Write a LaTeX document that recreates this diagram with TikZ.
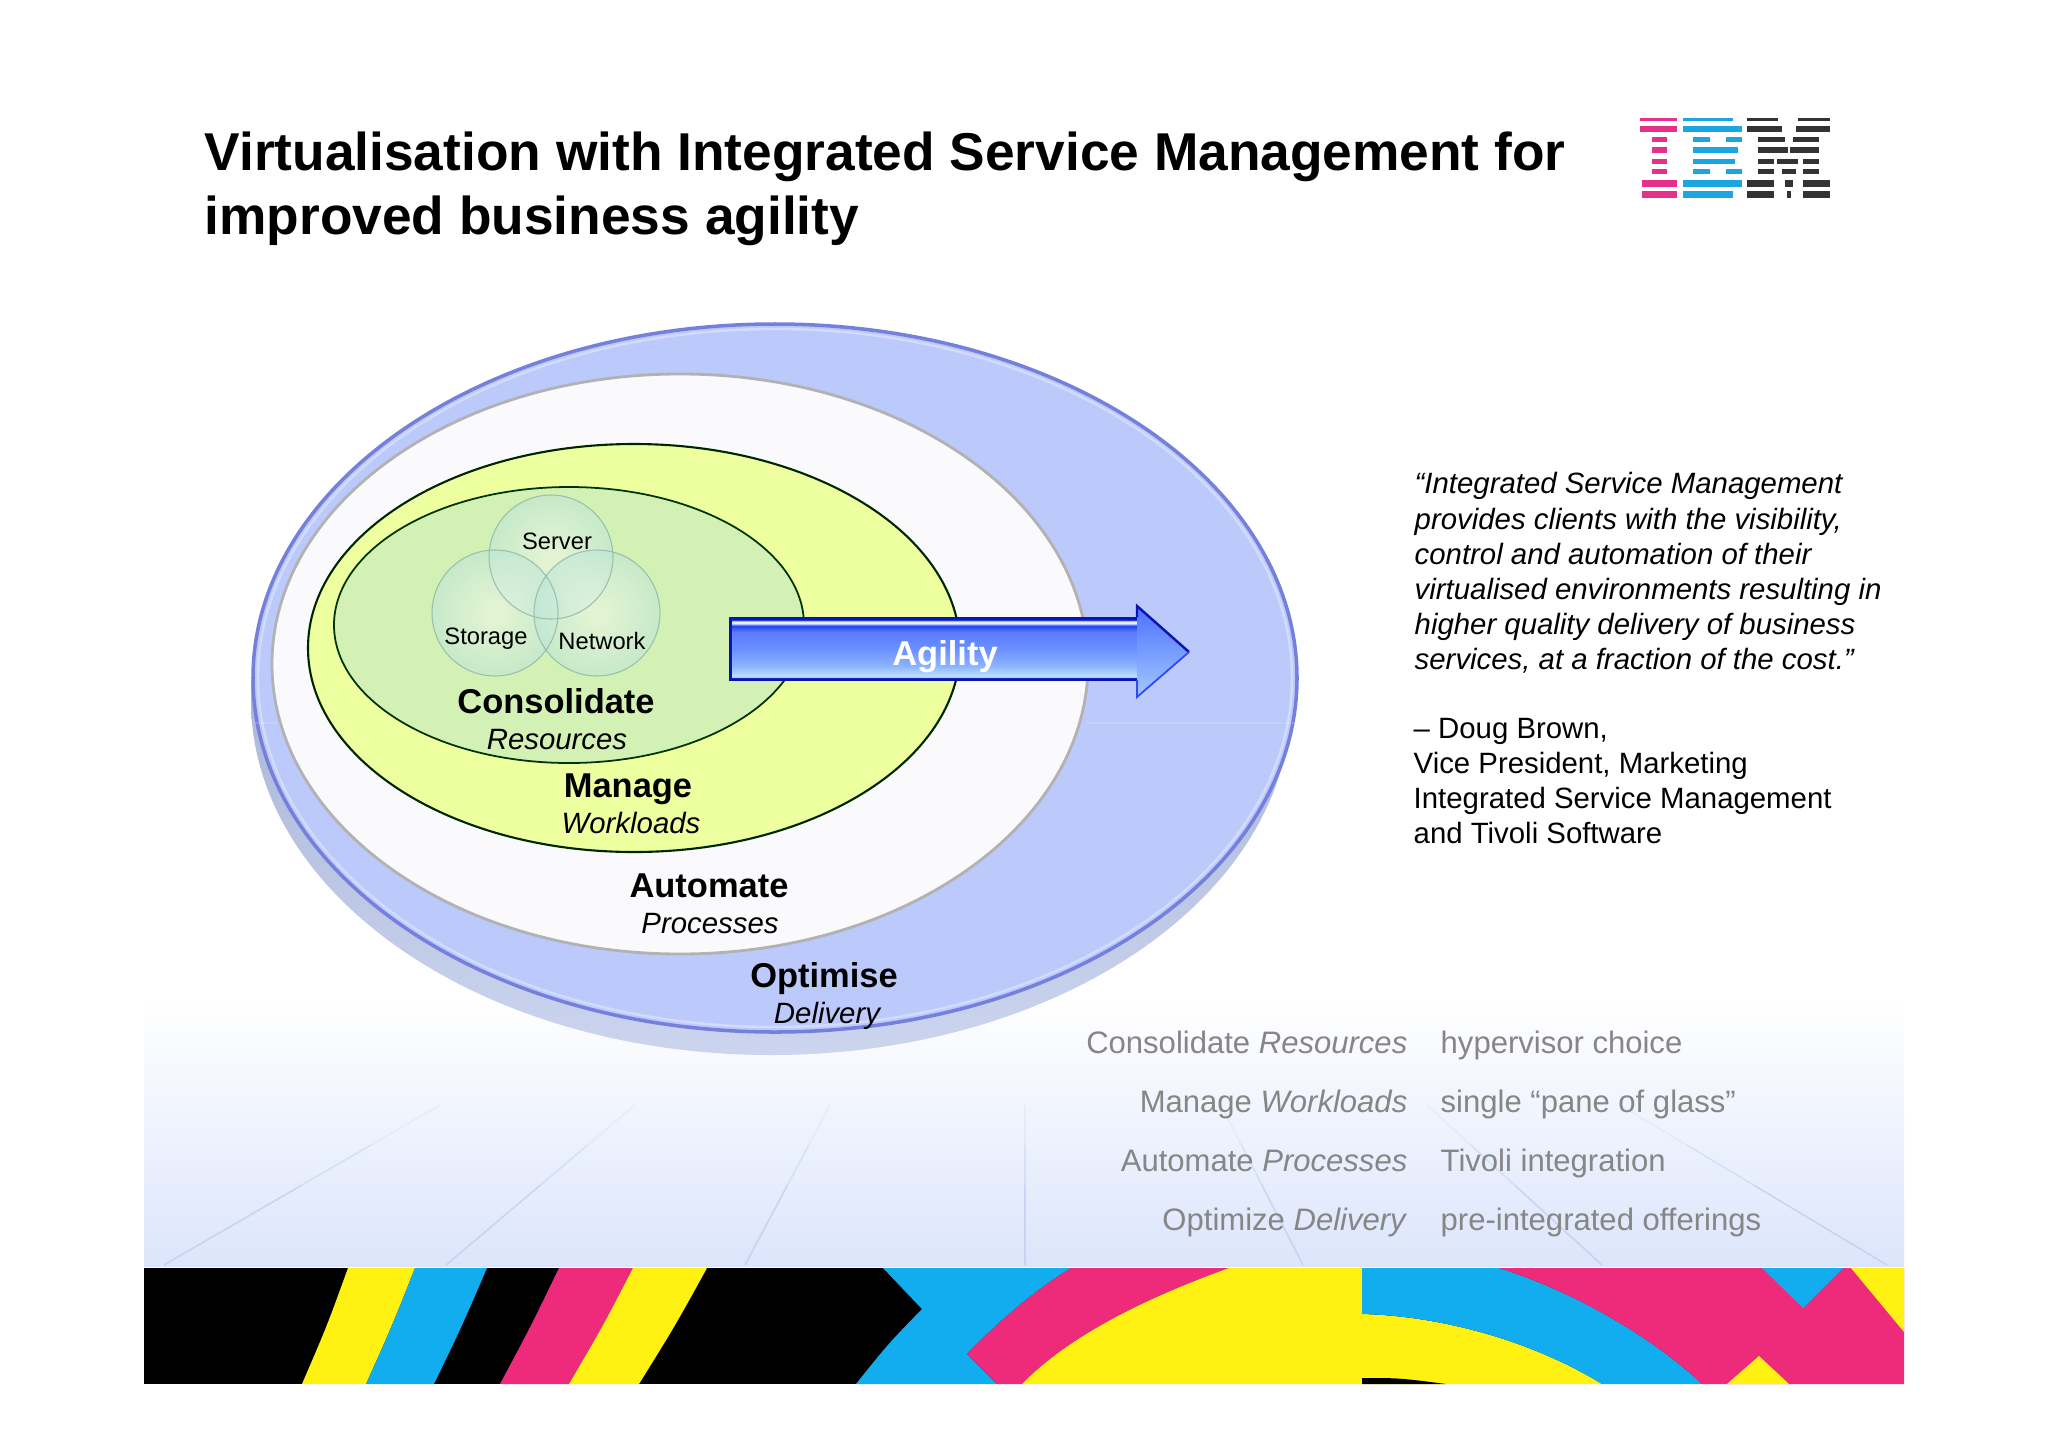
\documentclass[tikz,border=0pt]{standalone}
\usepackage{fontspec}
\setmainfont{Liberation Sans}
\definecolor{bmpink}{HTML}{EE2A7B}
\definecolor{bmblue}{HTML}{12ADEE}
\definecolor{bmyellow}{HTML}{FFF212}
\definecolor{ibmpink}{HTML}{E6308A}
\definecolor{ibmblue}{HTML}{1BA6E0}
\definecolor{ibmdark}{HTML}{333333}
\definecolor{greytext}{HTML}{868686}
\definecolor{diskfill}{HTML}{BCC9FB}
\definecolor{diskline}{HTML}{7480DC}
\definecolor{diskglow}{HTML}{D3DBFD}
\definecolor{sidetop}{HTML}{8E9AC8}
\definecolor{sidemid}{HTML}{9FABD4}
\definecolor{sidelow}{HTML}{CBD5EE}
\definecolor{bluefloor}{HTML}{DCE5FB}
\definecolor{agpale}{HTML}{BFE2FF}
\definecolor{aga}{HTML}{8DB4FF}
\definecolor{agb}{HTML}{6A8FFF}
\definecolor{agc}{HTML}{5A7CFF}
\definecolor{agd}{HTML}{2444EE}
\definecolor{age}{HTML}{E6EEFF}
\definecolor{agedge}{HTML}{0A14B4}
\definecolor{headblue}{HTML}{5F8CFF}
\definecolor{yellowzone}{HTML}{EEFFA0}
\definecolor{greenzone}{HTML}{D3F0B5}
\definecolor{whitezone}{HTML}{FAFAFC}
\definecolor{perspline}{HTML}{B9CAEE}
\definecolor{vennout}{HTML}{BFE6D6}
\definecolor{vennin}{HTML}{F2F9E8}
\definecolor{vennedge}{HTML}{8FB5A5}
\pgfdeclareverticalshading{agilityshade}{100bp}{color(0bp)=(agedge);color(25bp)=(agedge);color(26.5bp)=(agedge);color(27.5bp)=(agpale);color(36bp)=(aga);color(50bp)=(agb);color(63bp)=(agc);color(68bp)=(agd);color(70bp)=(age);color(71.5bp)=(age);color(72.5bp)=(agd);color(73.5bp)=(agedge);color(100bp)=(agedge)}
\tikzset{
  hd/.style={font=\fontsize{9.8}{11}\selectfont\bfseries,inner sep=0pt,anchor=base},
  sub/.style={font=\fontsize{8.35}{10}\selectfont\itshape,inner sep=0pt,anchor=base},
  tiny3/.style={font=\fontsize{6.75}{8}\selectfont,inner sep=0pt,anchor=base},
  greyr/.style={font=\fontsize{8.83}{11}\selectfont,text=greytext,inner sep=0pt,anchor=base east},
  greyl/.style={font=\fontsize{8.83}{11}\selectfont,text=greytext,inner sep=0pt,anchor=base west},
  quotetext/.style={font=\fontsize{8.35}{9.96}\selectfont,inner sep=0pt,align=left,anchor=north west},
  titletext/.style={font=\fontsize{15.15}{18.5}\selectfont\bfseries,inner sep=0pt,anchor=base west},
  persp/.style={draw=perspline,line width=0.45pt},
  venn/.style={inner color=vennin,outer color=vennout,opacity=.62},
  vennline/.style={draw=vennedge,line width=.3pt,opacity=.8},
}
\begin{document}
\begin{tikzpicture}[x=0.01cm,y=-0.01cm]
\useasboundingbox (0,0) rectangle (2048,1448);
% floor
\shade[top color=white,bottom color=bluefloor] (144,1000) rectangle (1904,1266);
\foreach \a/\c in {164/440,446/635,745/830,1025/1025,1303/1221,1602/1427,1887/1620}{
  \draw[persp,opacity=.65] (\a,1265) -- ({\a+.5*(\c-\a)},1185);
  \draw[persp,opacity=.4] ({\a+.5*(\c-\a)},1185) -- ({\a+.75*(\c-\a)},1145);
  \draw[persp,opacity=.18] ({\a+.75*(\c-\a)},1145) -- (\c,1105);
}
% colour band
\fill[black] (144,1268) rectangle (1904,1384);
\fill[bmyellow] (348,1268) -- (415,1268) .. controls (392,1326) .. (366,1384) -- (302,1384) .. controls (327,1326) .. cycle;
\fill[bmblue] (415,1268) -- (487,1268) .. controls (462,1326) .. (434,1384) -- (366,1384) .. controls (392,1326) .. cycle;
\fill[bmpink] (559,1268) -- (633,1268) .. controls (603,1326) .. (569,1384) -- (500,1384) .. controls (531,1326) .. cycle;
\fill[bmyellow] (633,1268) -- (707,1268) .. controls (675,1326) .. (639,1384) -- (569,1384) .. controls (603,1326) .. cycle;
\fill[bmblue] (883,1268) -- (922,1309) .. controls (888,1344) .. (856,1384) -- (997,1384) -- (967,1354) .. controls (1000,1320) and (1035,1290) .. (1071,1268) -- cycle;
\fill[bmpink] (1071,1268) -- (1229,1268) .. controls (1160,1293) and (1075,1330) .. (1022,1384) -- (997,1384) -- (967,1354) .. controls (1000,1320) and (1035,1290) .. cycle;
\fill[bmyellow] (1229,1268) -- (1362,1268) -- (1362,1384) -- (1022,1384) .. controls (1075,1330) and (1160,1293) .. cycle;
\fill[bmyellow] (1362,1314) .. controls (1440,1316) and (1530,1340) .. (1602,1384) -- (1362,1384) -- cycle;
\fill[black] (1362,1378) .. controls (1400,1378) .. (1446,1384) -- (1362,1384) -- cycle;
\fill[bmblue] (1362,1268) -- (1499,1268) .. controls (1570,1290) and (1650,1335) .. (1702,1384) -- (1602,1384) .. controls (1530,1340) and (1440,1316) .. (1362,1314) -- cycle;
\fill[bmpink] (1499,1268) -- (1904,1268) -- (1904,1384) -- (1702,1384) .. controls (1650,1335) and (1570,1290) .. cycle;
\fill[bmblue] (1762,1268) -- (1843,1268) -- (1803,1308) -- cycle;
\fill[bmyellow] (1851,1268) -- (1904,1268) -- (1904,1332) -- cycle;
\fill[bmyellow] (1759,1356) -- (1789,1384) -- (1727,1384) -- cycle;
% disk
\shade[top color=sidetop,middle color=sidemid,bottom color=sidelow] (771,700) ellipse[x radius=520,y radius=355];
\fill[diskfill] (775,678) ellipse[x radius=522,y radius=354];
\draw[diskline,line width=1pt] (775,678) ellipse[x radius=522,y radius=354];
\draw[diskglow,line width=.7pt] (775,678) ellipse[x radius=517,y radius=349];
\draw[white,line width=.3pt,opacity=.15] (1086,723) -- (1296,723) (254,723) -- (277,723);
% white
\fill[whitezone] (680,664) ellipse[x radius=408,y radius=290];
\draw[black!30!white,line width=.8pt] (680,664) ellipse[x radius=408,y radius=290];
% yellow
\fill[yellowzone] (634,648) ellipse[x radius=326,y radius=204];
\draw[black!85!green,line width=.6pt] (634,648) ellipse[x radius=326,y radius=204];
% green
\fill[greenzone] (569,625) ellipse[x radius=235,y radius=138];
\draw[black!80!green,line width=.5pt] (569,625) ellipse[x radius=235,y radius=138];
% venn circles
\shade[venn] (551,557) circle[radius=62];
\shade[venn] (495,613) circle[radius=63];
\shade[venn] (597,613) circle[radius=63];
\draw[vennline] (551,557) circle[radius=62];
\draw[vennline] (495,613) circle[radius=63];
\draw[vennline] (597,613) circle[radius=63];
\node[tiny3] (server) at (557,549) {Server};
\node[tiny3] (storage) at (486,644) {Storage};
\node[tiny3] (network) at (602,649) {Network};
% labels
\node[hd] (cons) at (556,713) {Consolidate};
\node[sub] (res) at (557,749) {Resources};
\node[hd] (man) at (628,797) {Manage};
\node[sub] (work) at (631,833) {Workloads};
\node[hd] (auto) at (709,897) {Automate};
\node[sub] (proc) at (710,933) {Processes};
\node[hd] (opt) at (824,987) {Optimise};
\node[sub] (del) at (827,1023) {Delivery};
% arrow
\shade[shading=agilityshade] (729,617) rectangle (1137,680);
\fill[agedge] (729,617) rectangle (732,680);
\shade[top color=headblue!80!blue,bottom color=agpale!70!headblue] (1137,606) -- (1189,652) -- (1137,697) -- cycle;
\draw[agedge,line width=.7pt] (1137,617) -- (1137,606) -- (1189,652);
\draw[blue!50!headblue,line width=.5pt] (1189,652) -- (1137,697) -- (1137,680);
\node[hd,text=white] (agil) at (945,665) {Agility};
% title
\node[titletext] (title1) at (204,170) {Virtualisation with Integrated Service Management for};
\node[titletext] (title2) at (204,234) {improved business agility};
% quote
\node[quotetext] (q) at (1414,472) {\itshape “Integrated Service Management\\\itshape provides clients with the visibility,\\\itshape control and automation of their\\\itshape virtualised environments resulting in\\\itshape higher quality delivery of business\\\itshape services, at a fraction of the cost.”};
\node[quotetext] (a) at (1413,718) {– Doug Brown,\\Vice President, Marketing\\Integrated Service Management\\and Tivoli Software};
% table
\node[greyr] (t1) at (1408,1053) {Consolidate \textit{Resources}};
\node[greyr] (t2) at (1408,1112) {Manage \textit{Workloads}};
\node[greyr] (t3) at (1408,1171) {Automate \textit{Processes}};
\node[greyr] (t4) at (1408,1230) {Optimize \textit{Delivery}};
\node[greyl] (u1) at (1440,1053) {hypervisor choice};
\node[greyl] (u2) at (1440,1112) {single “pane of glass”};
\node[greyl] (u3) at (1440,1171) {Tivoli integration};
\node[greyl] (u4) at (1440,1230) {pre-integrated offerings};
% IBM logo
\foreach \y/\h/\a/\b in {119/3/60/172,129/6/60/172,139.3/5/95/142,150.3/6/95/142,161/5/95/142,171.7/5/95/142,183.3/7/65/172,194/7/65/172}
  \fill[ibmpink] ({1620+\a/3},{\y-\h/2}) rectangle ({1620+\b/3},{\y+\h/2});
\foreach \y/\h/\a/\b in {119/3/188/340,129/6/188/365,139.3/5/220/270,139.3/5/317/365,150.3/6/220/355,161/5/220/345,171.7/5/220/270,171.7/5/317/365,183.3/7/190/365,194/7/188/340}
  \fill[ibmblue] ({1620+\a/3},{\y-\h/2}) rectangle ({1620+\b/3},{\y+\h/2});
\foreach \y/\h/\a/\b in {119/3/380/475,119/3/535/630,129/6/380/485,129/6/528/630,139.3/5/413/495,139.3/5/520/598,150.3/6/413/503,150.3/6/510/598,161/5/413/462,161/5/470/535,161/5/550/598,171.7/5/413/462,171.7/5/487/527,171.7/5/550/598,183.3/7/380/462,183.3/7/495/518,183.3/7/550/630,194/7/380/462,194/7/500/512,194/7/550/630}
  \fill[ibmdark] ({1620+\a/3},{\y-\h/2}) rectangle ({1620+\b/3},{\y+\h/2});
\end{tikzpicture}
\end{document}
